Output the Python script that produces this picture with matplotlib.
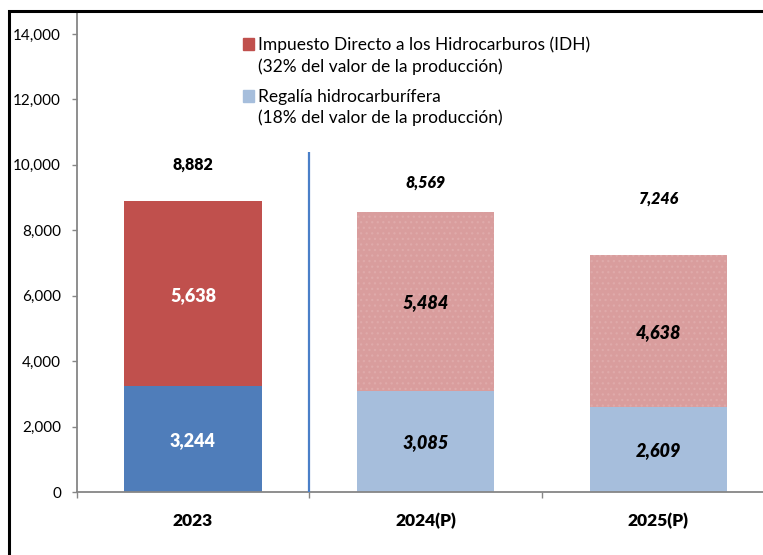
import numpy as np
import matplotlib
matplotlib.use("Agg")
import matplotlib.pyplot as plt
from matplotlib.patches import Rectangle

plt.rcParams["font.family"] = ["Lato", "DejaVu Sans"]
plt.rcParams["hatch.linewidth"] = 0.9

# ---- data ----
years = ["2023", "2024(P)", "2025(P)"]
regalia = [3244, 3085, 2609]
idh = [5638, 5484, 4638]
totals = [8882, 8569, 7246]
total_label_y = [10050, 9500, 9000]   # Excel-like placement of the total labels
projected = [False, True, True]

legend_lines = [
    ("Impuesto Directo a los Hidrocarburos (IDH)", "(32% del valor de la producción)"),
    ("Regalía hidrocarburífera", "(18% del valor de la producción)"),
]

# ---- colours ----
idh_real, idh_proj = "#C0504D", "#D99D9D"
reg_real, reg_proj = "#4F7DBA", "#A6BEDC"
axis_grey = "#868686"

W, H = 763, 555
fig = plt.figure(figsize=(W / 100, H / 100), dpi=100)
ax = fig.add_axes([76.7 / W, (H - 492) / H, (774.5 - 76.7) / W, (492 - 11) / H])

x = np.arange(len(years))
bw = 0.59
for i in range(len(years)):
    rc = reg_proj if projected[i] else reg_real
    ic = idh_proj if projected[i] else idh_real
    ax.bar(x[i], regalia[i], bw, color=rc, linewidth=0)
    b = ax.bar(x[i], idh[i], bw, bottom=regalia[i], color=ic, linewidth=0,
               edgecolor="#DFAAAA" if projected[i] else ic)
    if projected[i]:
        b.patches[0].set_hatch("...")

    style = "italic" if projected[i] else "normal"
    seg_col = "black" if projected[i] else "white"
    ax.text(x[i], regalia[i] / 2, f"{regalia[i]:,}", ha="center", va="center_baseline",
            fontsize=13, fontweight="heavy", fontstyle=style, color=seg_col)
    ax.text(x[i], regalia[i] + idh[i] / 2, f"{idh[i]:,}", ha="center", va="center_baseline",
            fontsize=13, fontweight="heavy", fontstyle=style, color=seg_col)
    ax.text(x[i], total_label_y[i], f"{totals[i]:,}", ha="center", va="center_baseline",
            fontsize=11.5, fontweight="heavy", fontstyle=style, color="black")

# divider between actual and projected
ax.vlines(0.5, 0, 10400, color="#4A7FC8", linewidth=1.6, zorder=3)

ax.set_xlim(-0.5, 2.5)
ax.set_ylim(0, 14700)
ax.set_yticks(np.arange(0, 14001, 2000))
ax.set_yticklabels([f"{v:,}" for v in range(0, 14001, 2000)])
ax.set_xticks(x)
ax.set_xticklabels(years, fontsize=12.5, fontweight="heavy")
ax.set_xticks([-0.5, 0.5, 1.5, 2.5], minor=True)

for s in ["top", "right"]:
    ax.spines[s].set_visible(False)
for s in ["left", "bottom"]:
    ax.spines[s].set_color(axis_grey)
    ax.spines[s].set_linewidth(1.3)

ax.tick_params(axis="y", length=3.6, width=1, color=axis_grey, pad=7.7, labelsize=11)
ax.tick_params(axis="x", which="major", length=0, pad=15)
ax.tick_params(axis="x", which="minor", length=4, width=1, color=axis_grey)

# legend drawn by hand so the swatch sits on the first line
sw = 11
for (l1, l2), col, y1, y2 in zip(legend_lines, [idh_real, reg_proj], [45, 97], [67, 118]):
    fig.patches.append(Rectangle((243 / W, 1 - (y1 - 1 + sw / 2) / H), sw / W, sw / H,
                                 transform=fig.transFigure, color=col))
    fig.text(258 / W, 1 - y1 / H, l1, fontsize=12.5, va="center", ha="left")
    fig.text(258 / W, 1 - y2 / H, l2, fontsize=12.5, va="center", ha="left")

# outer frame (cropped on the right and bottom)
fig.patches.append(Rectangle((8.5 / W, -0.1), 1.2, 1.1 - 10.5 / H,
                             transform=fig.transFigure, fill=False,
                             edgecolor="black", linewidth=2.2))

fig.savefig("out.png", dpi=100)
